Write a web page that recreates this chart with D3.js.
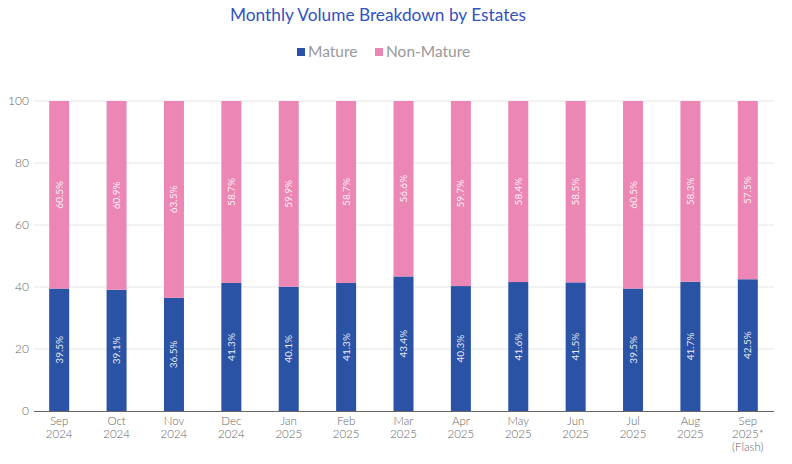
<!DOCTYPE html>
<html><head><meta charset="utf-8">
<script src="https://cdn.jsdelivr.net/npm/d3@7"></script>
<style>body{margin:0;background:#fff;} svg{display:block;font-family:Lato, "Open Sans", sans-serif;}</style>
</head><body><svg id="c" width="792" height="464"></svg>
<script>
const categories = [["Sep","2024"],["Oct","2024"],["Nov","2024"],["Dec","2024"],["Jan","2025"],["Feb","2025"],["Mar","2025"],["Apr","2025"],["May","2025"],["Jun","2025"],["Jul","2025"],["Aug","2025"],["Sep","2025*","(Flash)"]];
const mature = [39.5,39.1,36.5,41.3,40.1,41.3,43.4,40.3,41.6,41.5,39.5,41.7,42.5];
const nonMature = [60.5,60.9,63.5,58.7,59.9,58.7,56.6,59.7,58.4,58.5,60.5,58.3,57.5];
const yTicks = [0,20,40,60,80,100];
const seriesNames = ["Mature","Non-Mature"];
const colors = ["#2a52a5","#ec87b5"];

const svg = d3.select("#c");
const idx = categories.map((d,i)=>i);
const x = d3.scaleBand().domain(idx).range([30.5,776.5]).paddingInner(0).paddingOuter(0);
const y = d3.scaleLinear().domain([0,100]).range([411,101]);
const barW = 20;

svg.append("g").selectAll("line").data(yTicks.filter(t=>t>0)).join("line")
  .attr("x1",34).attr("x2",774).attr("y1",d=>y(d)).attr("y2",d=>y(d))
  .attr("stroke","#e6e6e6").attr("stroke-width",1);

svg.append("g").selectAll("text").data(yTicks).join("text")
  .attr("x",29).attr("y",d=>y(d)).attr("dy","0.35em").attr("text-anchor","end")
  .attr("font-size",12).attr("font-weight",300).attr("fill","#666").text(d=>d);

const rows = idx.map(i=>({i, Mature:mature[i], "Non-Mature":nonMature[i]}));
const stack = d3.stack().keys(seriesNames)(rows);
const g = svg.append("g");
stack.forEach((s,k)=>{
  g.selectAll(null).data(s).join("rect")
    .attr("x",d=>x(d.data.i)+x.bandwidth()/2-barW/2).attr("width",barW)
    .attr("y",d=>y(d[1])).attr("height",d=>y(d[0])-y(d[1]))
    .attr("fill",colors[k]);
  g.selectAll(null).data(s).join("text")
    .attr("transform",d=>`translate(${x(d.data.i)+x.bandwidth()/2},${(y(d[0])+y(d[1]))/2}) rotate(-90)`)
    .attr("text-anchor","middle").attr("dy","0.35em")
    .attr("font-size",10).attr("fill","#fff").attr("fill-opacity",0.9)
    .text(d=>(d[1]-d[0]).toFixed(1)+"%");
});

svg.append("line").attr("x1",34).attr("x2",774).attr("y1",411.5).attr("y2",411.5)
  .attr("stroke","#666").attr("stroke-width",1.2);

const xl = svg.append("g").selectAll("text").data(idx).join("text")
  .attr("x",d=>x(d)+x.bandwidth()/2).attr("y",425).attr("text-anchor","middle")
  .attr("font-size",11.5).attr("font-weight",300).attr("fill","#666");
xl.each(function(d){
  const t=d3.select(this);
  categories[d].forEach((line,j)=>{
    t.append("tspan").attr("x",x(d)+x.bandwidth()/2).attr("dy",j===0?0:13).text(line);
  });
});

svg.append("text").attr("x",378).attr("y",21).attr("text-anchor","middle")
  .attr("font-size",17.3).attr("fill","#3352c0").text("Monthly Volume Breakdown by Estates");

const leg = svg.append("g");
const legX = [297,375];
seriesNames.forEach((n,k)=>{
  leg.append("rect").attr("x",legX[k]).attr("y",48).attr("width",8).attr("height",8).attr("fill",colors[k]);
  leg.append("text").attr("x",legX[k]+11).attr("y",52).attr("dy","0.35em")
    .attr("font-size",15.5).attr("fill","#999").text(n);
});
</script></body></html>
